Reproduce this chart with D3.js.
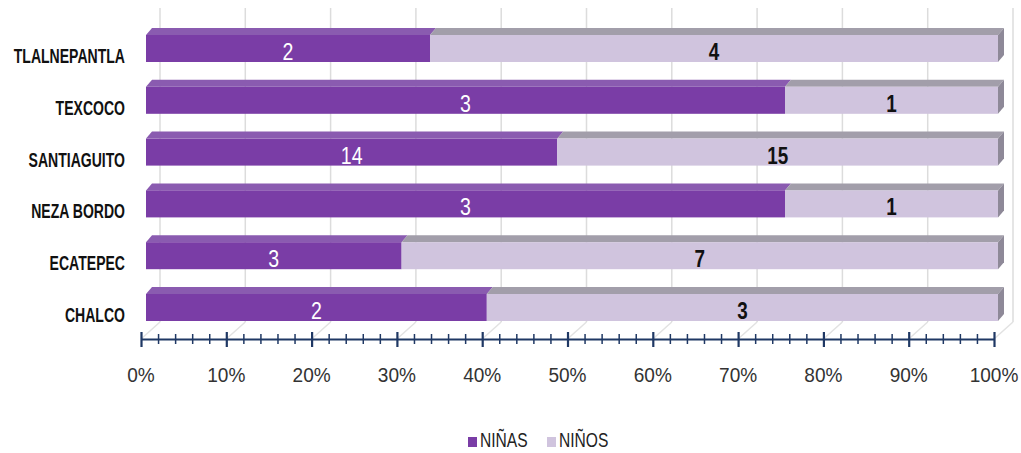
<!DOCTYPE html>
<html><head><meta charset="utf-8">
<script src="https://cdn.jsdelivr.net/npm/d3@7"></script>
<style>
body{margin:0;background:#fff;}
text{font-family:"Liberation Sans",Arial,sans-serif;}
</style></head>
<body><svg id="c" width="1021" height="453"></svg>
<script>
const categories = ["TLALNEPANTLA","TEXCOCO","SANTIAGUITO","NEZA BORDO","ECATEPEC","CHALCO"];
const ninas = [2,3,14,3,3,2];
const ninos = [4,1,15,1,7,3];
const seriesNames = ["NIÑAS","NIÑOS"];
const tickValues = [0,0.1,0.2,0.3,0.4,0.5,0.6,0.7,0.8,0.9,1];

const svg = d3.select("#c");
const purple = "#7a3da6", purpleTop = "#8a5bb0", lav = "#d0c4de", lavTop = "#a29eaa", lavSide = "#8e8998";

const xFront = d3.scaleLinear().domain([0,1]).range([141,994]);
const xBar = d3.scaleLinear().domain([0,1]).range([146,998]);
const xBack = d3.scaleLinear().domain([0,1]).range([160,1013]);
const y = d3.scalePoint().domain(categories).range([48.5,307.5]);
const barH = 27, dx = 6, dy = 7;
const axisY = 339, backBottom = 322, backTop = 8;

function txt(sel, x, yy, sx){ return sel.attr("transform", `translate(${x},${yy}) scale(${sx},1)`); }

// back gridlines
svg.append("g").selectAll("line").data(tickValues).join("line")
  .attr("x1", d=>xBack(d)).attr("x2", d=>xBack(d))
  .attr("y1", backTop).attr("y2", backBottom)
  .attr("stroke", "#dcdcdc").attr("stroke-width", 1.5);
// floor diagonals
svg.append("g").selectAll("line").data(tickValues).join("line")
  .attr("x1", d=>xFront(d)).attr("y1", axisY)
  .attr("x2", d=>xBack(d)).attr("y2", backBottom)
  .attr("stroke", "#e2e2e2").attr("stroke-width", 1.5);

const data = categories.map((c,i)=>({c, a:ninas[i], b:ninos[i], t:ninas[i]+ninos[i]}));
const g = svg.append("g");
data.forEach(d=>{
  const top = y(d.c) - barH/2;
  const x0 = xBar(0), xm = xBar(d.a/d.t), x1 = xBar(1);
  g.append("path").attr("d", `M${x0},${top} L${x0+dx},${top-dy} L${xm+dx},${top-dy} L${xm},${top} Z`).attr("fill", purpleTop);
  g.append("path").attr("d", `M${xm},${top} L${xm+dx},${top-dy} L${x1+dx},${top-dy} L${x1},${top} Z`).attr("fill", lavTop);
  g.append("path").attr("d", `M${x1},${top} L${x1+dx},${top-dy} L${x1+dx},${top+barH-dy} L${x1},${top+barH} Z`).attr("fill", lavSide);
  g.append("rect").attr("x", x0).attr("y", top).attr("width", xm-x0).attr("height", barH).attr("fill", purple);
  g.append("rect").attr("x", xm).attr("y", top).attr("width", x1-xm).attr("height", barH).attr("fill", lav);
  txt(g.append("text"), (x0+xm)/2, y(d.c)+11.5, 0.85).attr("text-anchor","middle")
    .attr("fill","#fff").attr("font-size",23).text(d.a);
  txt(g.append("text"), (xm+x1)/2, y(d.c)+11.5, 0.82).attr("text-anchor","middle")
    .attr("fill","#111").attr("font-size",23).attr("font-weight","bold").text(d.b);
});

// category labels
svg.append("g").selectAll("text").data(categories).join("text")
  .each(function(d){ txt(d3.select(this), 125, y(d)+14.5, 0.72); })
  .attr("text-anchor","end")
  .attr("font-size",19.5).attr("font-weight","bold").attr("fill","#111").text(d=>d);

// axis
const axisColor = "#1f3864";
const isMajor = d => Math.abs(d*10-Math.round(d*10))<1e-6;
const axis = d3.axisBottom(xFront).tickValues(d3.range(0,1.0001,0.02)).tickSize(0).tickFormat("");
const ag = svg.append("g").attr("transform",`translate(0,${axisY})`).call(axis);
ag.select(".domain").attr("stroke", axisColor).attr("stroke-width",2);
ag.selectAll(".tick line").remove();
ag.selectAll(".tick").append("line")
  .attr("y1", d=> isMajor(d) ? -7 : -5)
  .attr("y2", d=> isMajor(d) ? 8 : 5)
  .attr("stroke", axisColor)
  .attr("stroke-width", d=> isMajor(d) ? 2.2 : 1.5);

svg.append("g").selectAll("text").data(tickValues).join("text")
  .each(function(d){ txt(d3.select(this), xFront(d), 382, 0.93); })
  .attr("text-anchor","middle")
  .attr("font-size",20.5).attr("fill","#333").text(d=>d3.format(".0%")(d));

// legend
const legendX = [468, 547];
const lg = svg.append("g");
seriesNames.forEach((s,i)=>{
  lg.append("rect").attr("x", legendX[i]).attr("y", 437).attr("width",9).attr("height",10).attr("fill", i===0?purple:lav);
  txt(lg.append("text"), legendX[i]+12, 447, 0.78).attr("font-size",20).attr("fill","#222").text(s);
});
</script></body></html>
